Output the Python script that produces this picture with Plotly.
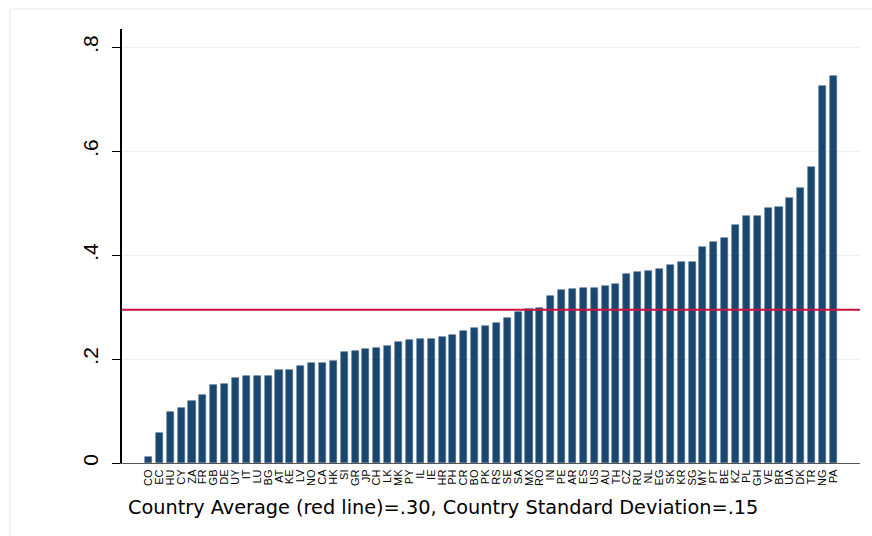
import plotly.graph_objects as go

# Country codes, sorted by score
countries = ["CO", "EC", "HU", "CY", "ZA", "FR", "GB", "DE", "UY", "IT",
             "LU", "BG", "AT", "KE", "LV", "NO", "CA", "HK", "SI", "GR",
             "JP", "CH", "LK", "MK", "PY", "IL", "IE", "HR", "PH", "CR",
             "BO", "PK", "RS", "SE", "SA", "MX", "RO", "IN", "PE", "AR",
             "ES", "US", "AU", "TH", "CZ", "RU", "NL", "EG", "SK", "KR",
             "SG", "MY", "PT", "BE", "KZ", "PL", "GH", "VE", "BR", "UA",
             "DK", "TR", "NG", "PA"]

scores = [0.012, 0.057, 0.098, 0.106, 0.120, 0.131, 0.150, 0.152, 0.163, 0.167,
          0.167, 0.168, 0.179, 0.179, 0.187, 0.193, 0.193, 0.197, 0.213, 0.216,
          0.220, 0.222, 0.226, 0.233, 0.236, 0.238, 0.239, 0.243, 0.247, 0.254,
          0.260, 0.264, 0.269, 0.279, 0.290, 0.297, 0.299, 0.321, 0.332, 0.335,
          0.336, 0.337, 0.341, 0.345, 0.363, 0.367, 0.370, 0.374, 0.381, 0.386,
          0.387, 0.415, 0.425, 0.433, 0.458, 0.475, 0.476, 0.490, 0.492, 0.510,
          0.529, 0.570, 0.726, 0.744]

country_average = 0.295
caption = "Country Average (red line)=.30, Country Standard Deviation=.15"

y_ticks = [0, 0.2, 0.4, 0.6, 0.8]
y_tick_text = ["0", ".2", ".4", ".6", ".8"]

FONT = "Arial, Liberation Sans, sans-serif"
WIDE_FONT = "DejaVu Sans, Arial, sans-serif"
W, H = 872, 536
ML, MR, MT, MB = 122, 12, 29, 73

idx = list(range(len(countries)))

fig = go.Figure()
fig.add_trace(go.Bar(
    x=idx, y=scores, width=0.65,
    marker=dict(color="#1a476f", line=dict(color="#4a6d8c", width=0.6)),
    hoverinfo="skip",
))

# horizontal reference line at the country average
fig.add_shape(type="line", xref="paper", yref="y",
              x0=0, x1=1, y0=country_average, y1=country_average,
              line=dict(color="#cc1040", width=2), layer="above")

# light frame around the whole graph
pw = W - ML - MR
ph = H - MT - MB
fig.add_shape(type="rect", xref="paper", yref="paper",
              x0=(10 - ML) / pw, x1=(W + 5 - ML) / pw,
              y0=(H - MB - (H + 5)) / ph, y1=(H - MB - 9) / ph,
              line=dict(color="#e4ecef", width=1.2), fillcolor="rgba(0,0,0,0)",
              layer="below")

fig.add_annotation(text=caption, xref="paper", yref="paper",
                   x=(126 - ML) / pw, y=(H - MB - 507) / ph,
                   xanchor="left", yanchor="middle", showarrow=False,
                   font=dict(family=WIDE_FONT, size=19.3, color="#000000"))

fig.update_layout(
    width=W, height=H,
    margin=dict(l=ML, r=MR, t=MT, b=MB),
    paper_bgcolor="white", plot_bgcolor="white",
    showlegend=False, bargap=0,
    font=dict(family=FONT, color="#000000"),
    xaxis=dict(
        range=[-2.44, 65.45],
        tickmode="array", tickvals=idx, ticktext=countries,
        tickangle=-90, tickfont=dict(size=11),
        ticks="", showgrid=False, zeroline=False,
        showline=True, linecolor="#555555", linewidth=1.2,
        ticklabelstandoff=1,
        fixedrange=True,
    ),
    yaxis=dict(
        range=[0, 0.835],
        tickmode="array", tickvals=y_ticks, ticktext=y_tick_text,
        tickangle=-90, tickfont=dict(size=21),
        ticks="outside", ticklen=8, tickcolor="#000000", tickwidth=1.2,
        showgrid=True, gridcolor="#e8f0f2", gridwidth=1,
        zeroline=False,
        showline=True, linecolor="#000000", linewidth=1.5,
        ticklabelstandoff=6,
        fixedrange=True,
    ),
)

fig.write_html("out.html")
